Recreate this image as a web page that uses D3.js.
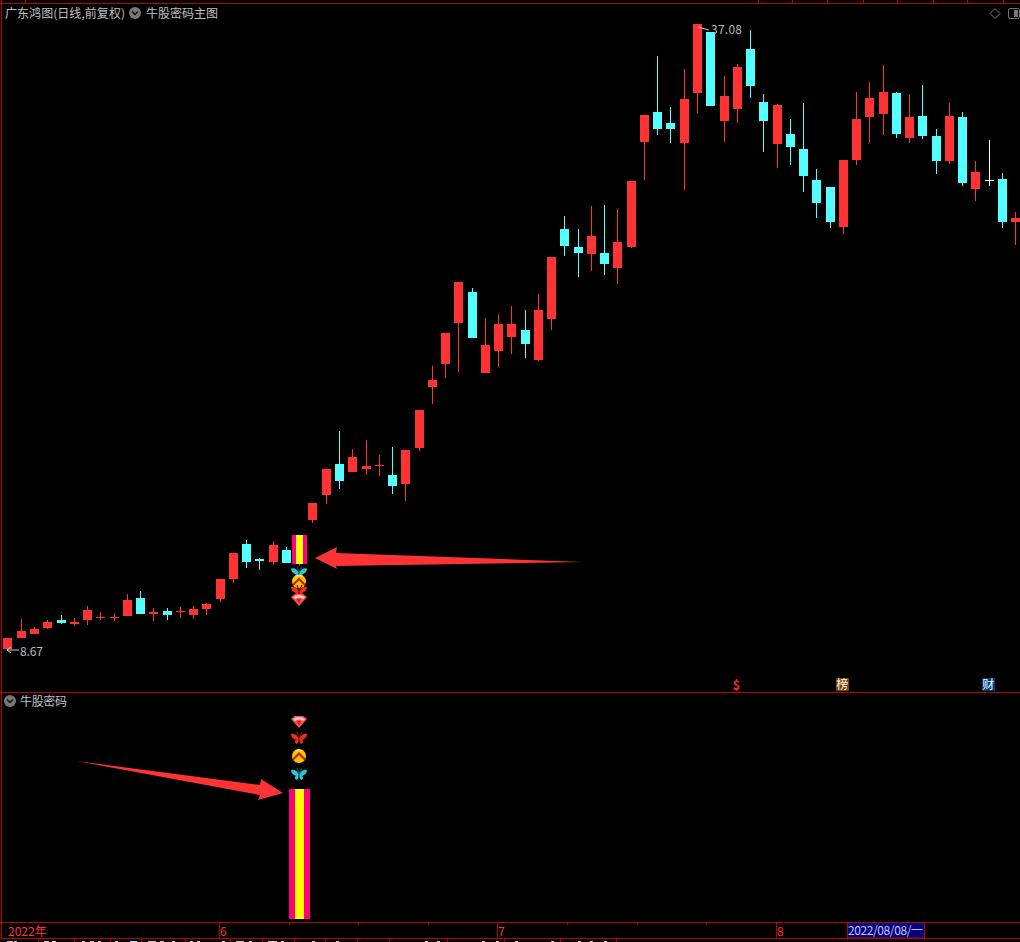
<!DOCTYPE html>
<html><head><meta charset="utf-8">
<script src="https://cdn.jsdelivr.net/npm/d3@7/dist/d3.min.js"></script>
<style>html,body{margin:0;padding:0;background:#000;overflow:hidden}svg{display:block}text{font-family:"Noto Sans CJK SC","Noto Sans",sans-serif}</style>
</head><body>
<svg id="chart" width="1020" height="942"></svg>
<script>
const opens=[8.72,9.21,9.40,9.67,10.03,9.85,10.03,10.12,10.12,10.21,11.03,10.30,10.44,10.39,10.26,10.53,10.98,11.89,13.48,12.80,12.66,13.21,12.57,14.57,15.70,17.11,16.75,16.88,17.02,16.61,16.20,17.84,20.60,21.65,23.51,24.92,21.24,22.24,22.87,23.19,21.83,23.69,27.77,26.96,26.64,26.69,26.01,26.96,31.72,33.09,32.59,31.68,33.95,36.72,32.68,33.22,35.94,33.54,31.63,32.09,31.41,30.00,29.68,27.87,30.91,32.86,32.99,33.95,31.90,32.90,31.99,30.86,32.86,29.59,30.00,30.04,28.09];
const closes=[9.21,9.53,9.62,9.94,9.90,9.94,10.49,10.17,10.17,10.94,10.30,10.39,10.26,10.44,10.53,10.76,11.89,13.07,12.66,12.71,13.43,12.62,13.89,15.34,16.88,16.34,17.43,17.02,17.07,16.11,17.75,19.56,20.92,23.06,25.37,22.83,22.51,23.46,23.46,22.56,24.10,26.50,27.00,26.69,27.46,26.19,27.19,29.95,32.95,32.31,32.31,33.67,37.08,33.36,33.81,35.13,34.26,32.68,33.40,31.50,30.18,28.95,28.09,30.91,32.77,33.72,33.99,32.09,32.86,31.99,30.86,32.90,29.86,30.36,29.95,28.09,28.27];
const highs=[9.21,10.08,9.71,10.03,10.26,10.12,10.67,10.39,10.35,11.21,11.35,10.58,10.58,10.62,10.67,10.80,11.89,13.07,13.66,12.84,13.62,13.34,13.89,15.34,16.88,18.61,17.79,18.20,17.52,17.88,17.75,19.56,21.56,23.06,25.37,25.10,23.74,23.92,24.28,24.10,24.83,26.50,28.37,27.77,28.82,28.86,28.68,29.95,32.95,35.63,33.31,35.04,37.08,36.72,34.72,35.26,36.81,33.90,33.45,32.77,33.49,30.50,29.68,30.91,33.99,34.45,35.22,33.99,33.86,34.31,32.31,33.49,33.09,30.86,31.81,30.32,28.55];
const lows=[8.67,9.21,9.40,9.62,9.85,9.76,9.80,10.03,9.99,10.21,10.30,9.99,10.03,10.12,10.08,10.26,10.85,11.71,12.39,12.30,12.53,12.62,12.48,14.43,15.30,15.98,16.75,16.61,16.57,15.75,15.43,17.70,19.83,21.01,21.29,22.83,21.24,21.51,22.10,21.92,21.79,23.19,26.55,25.60,25.87,25.69,25.28,26.91,30.00,32.04,31.68,29.54,33.04,33.36,31.72,32.59,33.72,31.27,30.54,30.68,29.45,28.27,27.82,27.55,30.68,31.68,32.04,31.90,31.68,31.86,30.27,30.72,29.73,29.05,29.73,27.82,27.05];
const monthLabels=["2022年","6","7","8"];
const monthIndex=[0,16,37,58];
const weekTicks=[21.2,26.4,31.7,42.2,47.5,52.7];
const dojiWhite=[74];
const signalIndex=22;
const signalBar=[12.57,13.89];
const hiLabel="37.08", loLabel="8.67";
const crosshairDate="2022/08/08/一";
const flagIndex=[55,63,74];
const flagText=["$","榜","财"];
const flagFill=[null,"#7a3c00","#003c78"];

const RED="#ff3333",CYAN="#54ffff",LINE="#c00000",GREY="#c0c0c0";
const svg=d3.select("#chart");
svg.append("rect").attr("width",1020).attr("height",942).attr("fill","#000");

const x=d3.scaleLinear().domain([0,76]).range([7.49,1015.25]);
const y=d3.scaleLinear().domain([8.67,37.08]).range([650,24]);
const x0=i=>Math.round(x(i));
const py=v=>Math.round(y(v));

// frame
const frame=svg.append("g").attr("stroke",LINE).attr("stroke-width",1).attr("shape-rendering","crispEdges");
const seg=(a,b,c,d)=>frame.append("line").attr("x1",a).attr("y1",b).attr("x2",c).attr("y2",d);
[[0,3.5,1020,3.5],[0,692.5,1020,692.5],[0,922.5,1020,922.5],[0,938.5,1020,938.5],[1.5,0,1.5,938]].forEach(l=>seg(...l));
[25,758,792,827,863,897,933,967,1003].forEach(v=>seg(v+.5,0,v+.5,3));
// status strip below the axis
[38,74,110,141,185,230,262,294,325,357,389,447,504,560,616].forEach(v=>seg(v+.5,939,v+.5,942));
const strip=svg.append("g").attr("shape-rendering","crispEdges");
[[7,6,"#ccc"],[14,3,"#ccc"],[44,5,"#ccc"],[52,4,"#ccc"],[82,3,"#ccc"],[90,4,"#ccc"],[98,3,"#ccc"],[115,3,"#ccc"],[130,7,CYAN],[148,8,"#ccc"],[160,4,"#ccc"],[172,3,"#ccc"],[190,3,"#ccc"],[197,3,"#ccc"],[222,3,"#ccc"],[236,8,"#ccc"],[249,3,"#ccc"],[268,9,"#ccc"],[281,3,"#ccc"],[312,3,"#ccc"],[336,3,"#ccc"],[425,3,"#ccc"],[437,3,"#ccc"],[482,3,"#ccc"],[496,3,"#ccc"],[515,3,"#ccc"],[551,3,"#ccc"],[578,3,"#ccc"],[590,3,"#ccc"],[604,3,"#ccc"]]
 .forEach(s=>strip.append("rect").attr("x",s[0]).attr("y",941).attr("width",s[1]).attr("height",1).attr("fill",s[2]));

// candles
const idx=d3.range(opens.length);
const colorOf=i=>dojiWhite.includes(i)?"#fff":(closes[i]>opens[i]?RED:CYAN);
const g=svg.append("g").attr("shape-rendering","crispEdges");
g.selectAll(".w").data(idx).join("rect").attr("x",i=>x0(i)).attr("width",1)
 .attr("y",i=>py(highs[i])).attr("height",i=>Math.max(1,py(lows[i])-py(highs[i]))).attr("fill",colorOf);
g.selectAll(".b").data(idx).join("rect").attr("x",i=>x0(i)-4).attr("width",9)
 .attr("y",i=>py(Math.max(opens[i],closes[i]))).attr("height",i=>Math.max(1,py(Math.min(opens[i],closes[i]))-py(Math.max(opens[i],closes[i])))).attr("fill",colorOf);

// signal bars
function signal(xc,w,yw,top,bot){
  const s=svg.append("g").attr("shape-rendering","crispEdges");
  s.append("rect").attr("x",xc-w/2).attr("width",w).attr("y",top).attr("height",bot-top).attr("fill","#ff0080");
  s.append("rect").attr("x",xc-yw/2).attr("width",yw).attr("y",top).attr("height",bot-top).attr("fill","#ffff00");
}
const sx=x0(signalIndex)+.5;
signal(sx,15,7,py(signalBar[1]),py(signalBar[0]));
signal(sx,21,9,789,919);

// icons
const fly=(cx,cy,col,dark)=>{
  const b=svg.append("g").attr("transform",`translate(${cx},${cy})`);
  b.append("path").attr("d","M-8,-4 C-5,-5 -2,-3 0,0 C2,-3 5,-5 8,-4 C8,-1 6,1 3,2 C5,3 4,6 2,6 L0,3 L-2,6 C-4,6 -5,3 -3,2 C-6,1 -8,-1 -8,-4Z").attr("fill",col);
  b.append("path").attr("d","M0,4 L0,-1 M0,0 L-2,-6 M0,0 L3,-6").attr("stroke",dark).attr("stroke-width",1.3).attr("fill","none");
};
const coin=(cx,cy)=>{
  const c=svg.append("g").attr("transform",`translate(${cx},${cy})`);
  c.append("circle").attr("r",7).attr("fill","#ffc400");
  c.append("path").attr("d","M-6,2 L0,-4 L6,2 L6,5 L0,-1 L-6,5Z").attr("fill","#c81e14");
  c.append("path").attr("d","M-4,-5 A7,7 0 0 1 4,-5Z").attr("fill","#ffe97a");
};
const gem=(cx,cy)=>{
  const d=svg.append("g").attr("transform",`translate(${cx},${cy})`);
  d.append("path").attr("d","M-8,-3 L-4,-6 L4,-6 L8,-3 L0,6Z").attr("fill","#ff4f4f");
  d.append("path").attr("d","M-6,-3 Q0,-7 6,-3 L4,-1 Q0,-4 -4,-1Z").attr("fill","#ffc8c8");
  d.append("path").attr("d","M-2,-1 L0,4 L2,-1Z").attr("fill","#c81e2c");
};
const ic=sx-.5;
fly(ic,572.5,"#28c8d8","#0b5560"); coin(ic,581.5); fly(ic,591,"#e8301e","#701008"); gem(ic,600);
gem(ic,722); fly(ic,738,"#e8301e","#701008"); coin(ic,756); fly(ic,774,"#28c8d8","#0b5560");

// arrows
const arrow=svg.append("g").attr("fill",RED);
arrow.append("path").attr("d","M315,558 L337,547 L336,553 L583,562 L336,566 L337,569Z");
arrow.append("path").attr("d","M76,761 L260,785 L261,779 L283,793 L258,800 L260,795Z");

// text
const T=(tx,ty,s,o={})=>{const t=svg.append("text").attr("x",tx).attr("y",ty).attr("fill",o.fill||GREY).attr("font-size",o.size||12).attr("text-anchor",o.anchor||"start").text(s);
 if(o.len)t.attr("textLength",o.len).attr("lengthAdjust","spacing");return t;};
T(5,18,"广东鸿图(日线,前复权)",{size:12,len:120});
T(146,18,"牛股密码主图",{size:12,len:72});
T(20,706,"牛股密码",{size:12,len:47});
const chev=(cx,cy)=>{const c=svg.append("g");c.append("circle").attr("cx",cx).attr("cy",cy).attr("r",6).attr("fill","#777");
 c.append("path").attr("d",`M${cx-3},${cy-1.5} L${cx},${cy+1.5} L${cx+3},${cy-1.5}`).attr("stroke","#111").attr("stroke-width",1.5).attr("fill","none");};
chev(135,13); chev(10,701);
T(20,656,loLabel,{size:12,fill:"#bbb",len:23});
T(711,34,hiLabel,{size:12,fill:"#bbb",len:31});
svg.append("path").attr("d","M7,650 L19,650 M7,650 L11,647 M7,650 L11,653").attr("stroke","#ccc").attr("fill","none");
svg.append("path").attr("d","M698,27 L709,30").attr("stroke","#ccc").attr("fill","none");

// top right tools
svg.append("path").attr("d","M995,8.5 L1000,13.5 L995,18.5 L990,13.5Z").attr("fill","none").attr("stroke","#777");
svg.append("rect").attr("x",1008.5).attr("y",8.5).attr("width",11).attr("height",10).attr("rx",2).attr("fill","none").attr("stroke","#777");
svg.append("rect").attr("x",1014).attr("y",10).attr("width",4).attr("height",7).attr("fill","#777");

// flags
flagIndex.forEach((f,k)=>{
  const c=x(f)-.5;
  if(flagFill[k]) svg.append("rect").attr("x",Math.round(c-6.5)).attr("y",678).attr("width",13).attr("height",13).attr("fill",flagFill[k]);
  T(c,flagFill[k]?689:690,flagText[k],{fill:flagFill[k]?"#fff":"#ff2020",size:flagFill[k]?12:13,anchor:"middle"}).attr("font-weight",flagFill[k]?"normal":"bold");
});

// time axis
monthIndex.forEach((m,k)=>{
  const px=Math.round(x(m));
  if(k>0) seg(px-.5,922,px-.5,938);
  T(k?px:8,936,monthLabels[k],{fill:"#ff3333",size:12});
});
weekTicks.forEach(t=>{const px=Math.round(x(t))+.5;seg(px,922,px,925)});
svg.append("rect").attr("x",847.5).attr("y",922.5).attr("width",77).attr("height",15.5).attr("fill","#000080").attr("stroke",LINE);
T(848,935,crosshairDate,{fill:"#c8c8e8",size:12,len:75});
</script>
</body></html>
